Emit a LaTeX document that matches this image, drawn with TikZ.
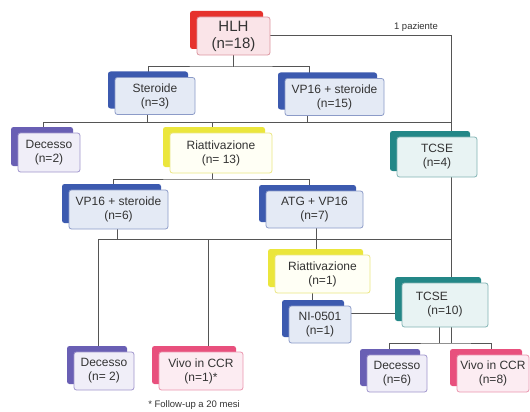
\documentclass[tikz,border=0pt]{standalone}
\usepackage{fontspec}
\setmainfont{Liberation Sans}
\usetikzlibrary{shadows,backgrounds}

\definecolor{hlhback}{RGB}{230,50,45}
\definecolor{hlhfill}{RGB}{250,228,232}
\definecolor{hlhline}{RGB}{220,150,160}
\definecolor{blueback}{RGB}{60,90,175}
\definecolor{bluefill}{RGB}{228,234,245}
\definecolor{blueline}{RGB}{140,155,200}
\definecolor{purpback}{RGB}{105,95,180}
\definecolor{purpfill}{RGB}{240,238,248}
\definecolor{purpline}{RGB}{160,150,205}
\definecolor{yelback}{RGB}{235,230,60}
\definecolor{yelfill}{RGB}{255,255,245}
\definecolor{yelline}{RGB}{235,230,130}
\definecolor{tealback}{RGB}{35,135,135}
\definecolor{tealfill}{RGB}{232,243,243}
\definecolor{tealline}{RGB}{130,180,180}
\definecolor{pinkback}{RGB}{232,80,125}
\definecolor{pinkfill}{RGB}{252,236,242}
\definecolor{pinkline}{RGB}{235,150,175}
\definecolor{linecol}{RGB}{85,85,85}

\begin{document}
\begin{tikzpicture}[x=1pt,y=-1pt,
  box/.style={rounded corners=2.5pt, line width=0.8pt, align=center, inner sep=0pt,
    text=black!80, font=\fontsize{12}{14}\selectfont},
  backbox/.style={copy shadow={shadow xshift=-7pt, shadow yshift=6pt, fill=#1, draw=none}},
  hlhbox/.style={box, draw=hlhline, fill=hlhfill, backbox=hlhback, font=\fontsize{15}{17}\selectfont},
  bluebox/.style={box, draw=blueline, fill=bluefill, backbox=blueback},
  purplebox/.style={box, draw=purpline, fill=purpfill, backbox=purpback},
  yellowbox/.style={box, draw=yelline, fill=yelfill, backbox=yelback},
  tealbox/.style={box, draw=tealline, fill=tealfill, backbox=tealback},
  pinkbox/.style={box, draw=pinkline, fill=pinkfill, backbox=pinkback},
  note/.style={inner sep=0pt, text=black!80, font=\fontsize{9.5}{10}\selectfont},
  conn/.style={draw=linecol, line width=1pt}]

\useasboundingbox (0,0) rectangle (530,412);
  \node[hlhbox, minimum width=73pt, minimum height=38pt] (n1) at (233.5,36) {HLH\\(n=18)};
  \node[bluebox, minimum width=80pt, minimum height=37pt] (n21) at (155,96) {Steroide\\(n=3)};
  \node[bluebox, minimum width=99pt, minimum height=37pt] (n22) at (334.5,97) {VP16 + steroide\\(n=15)};
  \node[purplebox, minimum width=62pt, minimum height=39pt] (n31) at (49,152.5) {Decesso\\(n=2)};
  \node[yellowbox, minimum width=102pt, minimum height=40pt] (n32) at (221,153) {Riattivazione\\(n= 13)};
  \node[tealbox, minimum width=80pt, minimum height=40pt] (n33) at (437,157) {TCSE\\(n=4)};
  \node[bluebox, minimum width=99pt, minimum height=39pt] (n41) at (118.5,209.5) {VP16 + steroide\\(n=6)};
  \node[bluebox, minimum width=97pt, minimum height=37pt] (n42) at (314.5,209.5) {ATG + VP16\\(n=7)};
  \node[yellowbox, minimum width=95pt, minimum height=38pt] (n51) at (322.5,274) {Riattivazione\\(n=1)};
  \node[bluebox, minimum width=62pt, minimum height=37pt] (n61) at (320,324.5) {NI-0501\\(n=1)};
  \node[tealbox, minimum width=86pt, minimum height=44pt] (n62) at (445,305) {TCSE\hspace*{2.2em}\\(n=10)};
  \node[purplebox, minimum width=60pt, minimum height=38pt] (n71) at (104,371) {Decesso\\(n= 2)};
  \node[pinkbox, minimum width=84pt, minimum height=38pt] (n72) at (201,371) {Vivo in CCR\\(n=1)*};
  \node[purplebox, minimum width=60pt, minimum height=37pt] (n73) at (397,373.5) {Decesso\\(n=6)};
  \node[pinkbox, minimum width=72pt, minimum height=37pt] (n74) at (493,373.5) {Vivo in CCR\\(n=8)};
  \node[note] (p1) at (416,27) {1 paziente};
  \node[note] (f1) at (194,405) {* Follow-up a 20 mesi};

  \coordinate (c1) at (233.5,67);
  \coordinate (c2) at (451,122);
  \coordinate (c3) at (212,179);
  \coordinate (c4) at (451,239);
  \coordinate (c5) at (451,343);

\begin{scope}[on background layer]
  \fill[white] (0,0) rectangle (530,412);
  \draw[conn] (n1) -| (c5);
  \draw[conn] (n1) -- (c1);
  \draw[conn] ([xshift=-7pt]n21.center) |- (c1) -| ([xshift=-25pt]n22.center);
  \draw[conn] ([xshift=-6pt]n31.center) |- (c2);
  \draw[conn] ([xshift=-8pt]n21.center) -- ([xshift=-8pt]n21.center |- c2);
  \draw[conn] ([xshift=-27.5pt]n22.center) -- ([xshift=-27.5pt]n22.center |- c2);
  \draw[conn] ([xshift=-9pt]n32.center |- c2) -- (c3);
  \draw[conn] ([xshift=-5.5pt]n41.center) |- (c3) -| ([xshift=-5.5pt]n42.center);
  \draw[conn] ([xshift=-6pt]n71.center) |- (c4);
  \draw[conn] ([xshift=-1.5pt]n41.center) -- ([xshift=-1.5pt]n41.center |- c4);
  \draw[conn] ([xshift=7pt]n72.center) -- ([xshift=7pt]n72.center |- c4);
  \draw[conn] ([xshift=1.5pt]n42.center) -- ([xshift=1.5pt]n42.center |- n51.center);
  \draw[conn] ([xshift=-10.5pt]n51.center) -- ([xshift=-10.5pt]n51.center |- n61.center);
  \draw[conn] ([yshift=11.5pt]n61.center) -- ([yshift=11.5pt]n61.center -| n62.center);
  \draw[conn] ([xshift=-6pt]n62.center) -- ([xshift=-6pt]n62.center |- c5);
  \draw[conn] ([xshift=-8pt]n73.center) |- (c5) -| ([xshift=-2pt]n74.center);
\end{scope}
\end{tikzpicture}
\end{document}
